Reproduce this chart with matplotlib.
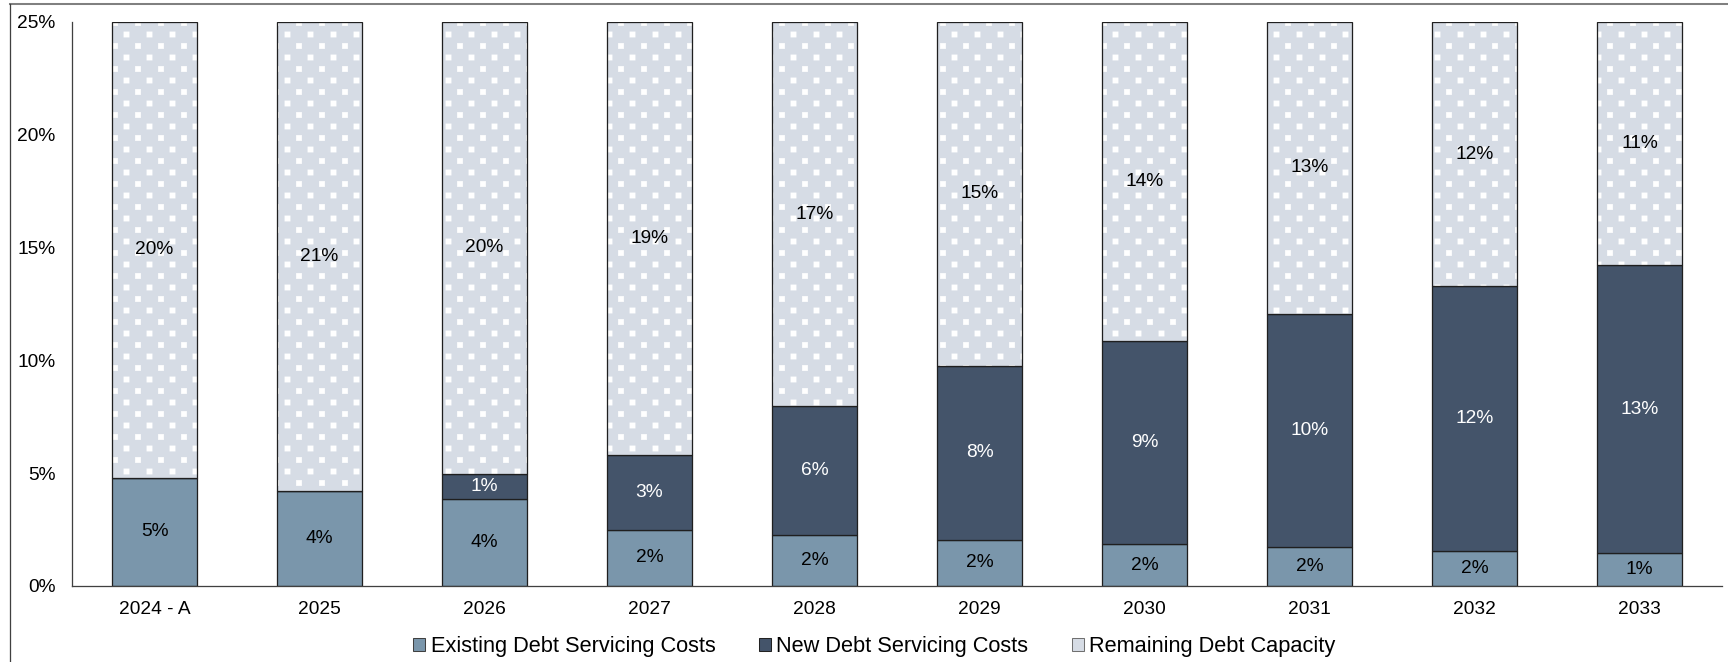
import numpy as np
import matplotlib
matplotlib.use("Agg")
import matplotlib.pyplot as plt
import matplotlib.hatch as mhatch
from matplotlib.path import Path
from matplotlib.patches import Patch
from matplotlib.lines import Line2D

categories = ["2024 - A", "2025", "2026", "2027", "2028", "2029", "2030", "2031", "2032", "2033"]
existing = [4.79, 4.20, 3.86, 2.49, 2.25, 2.05, 1.86, 1.71, 1.56, 1.46]
new_debt = [0.00, 0.00, 1.12, 3.32, 5.71, 7.72, 8.98, 10.35, 11.72, 12.75]
remaining = [20.21, 20.80, 20.02, 19.19, 17.04, 15.23, 14.16, 12.94, 11.72, 10.79]
series_names = ["Existing Debt Servicing Costs", "New Debt Servicing Costs", "Remaining Debt Capacity"]
yticks = [0, 5, 10, 15, 20, 25]


# ---- custom hatch: staggered small white squares ----
class SquareDots(mhatch.HatchPatternBase):
    ncols = 4
    size = 0.062

    def __init__(self, hatch, density):
        n = hatch.count('.')
        if n == 0:
            self.num_vertices = 0
            return
        nrows = 2 * self.ncols
        self.positions = []
        for r in range(nrows + 1):
            y = r / nrows
            if r % 2 == 0:
                xs = np.linspace(0, 1, self.ncols + 1)
            else:
                xs = np.linspace(0.5 / self.ncols, 1 - 0.5 / self.ncols, self.ncols)
            for xx in xs:
                self.positions.append((xx, y))
        self.num_vertices = len(self.positions) * 5

    def set_vertices_and_codes(self, vertices, codes):
        h = self.size / 2
        sq = np.array([[-h, -h], [h, -h], [h, h], [-h, h], [-h, -h]])
        sc = [Path.MOVETO, Path.LINETO, Path.LINETO, Path.LINETO, Path.CLOSEPOLY]
        vs, cs = [], []
        for (px, py) in self.positions:
            vs.append(sq + [px, py])
            cs.extend(sc)
        vertices[:] = np.concatenate(vs)
        codes[:] = cs


mhatch._hatch_types = [SquareDots]
plt.rcParams['hatch.linewidth'] = 0.1
plt.rcParams['font.family'] = ['Liberation Sans', 'DejaVu Sans']

DPI = 92
fig = plt.figure(figsize=(1728 / DPI, 662 / DPI), dpi=DPI)
ax = fig.add_axes([72 / 1728, 1 - 586 / 662, (1722 - 72) / 1728, (586 - 22) / 662])

c_exist = "#7A96AB"
c_new = "#44546A"
c_rem = "#D6DCE5"
edge = "#1f1f1f"

x = np.arange(len(categories))
w = 0.51
ex = np.array(existing)
nw = np.array(new_debt)
rm = np.array(remaining)

ax.bar(x, ex, w, color=c_exist, edgecolor=edge, linewidth=1.0, zorder=2)
ax.bar(x, nw, w, bottom=ex, color=c_new, edgecolor=edge, linewidth=1.0, zorder=2)
# remaining with white dots hatch, then outline
ax.bar(x, rm, w, bottom=ex + nw, color=c_rem, edgecolor="white", linewidth=0, hatch='.', zorder=2)
ax.bar(x, rm, w, bottom=ex + nw, fill=False, edgecolor=edge, linewidth=1.0, zorder=3)

fs_lab = 15
for i in range(len(categories)):
    ax.text(x[i], ex[i] / 2, f"{round(ex[i])}%", ha='center', va='center', fontsize=fs_lab, color='black', zorder=4)
    if nw[i] > 0:
        ax.text(x[i], ex[i] + nw[i] / 2, f"{round(nw[i])}%", ha='center', va='center', fontsize=fs_lab, color='white', zorder=4)
    ax.text(x[i], ex[i] + nw[i] + rm[i] / 2, f"{round(rm[i])}%", ha='center', va='center', fontsize=fs_lab, color='black', zorder=4)

ax.set_xlim(-0.5, len(categories) - 0.5)
ax.set_ylim(0, 25)
ax.set_yticks(yticks)
ax.set_yticklabels([f"{t}%" for t in yticks])
ax.set_xticks(x)
ax.set_xticklabels(categories)
ax.tick_params(axis='both', length=0, labelsize=15)
ax.tick_params(axis='y', pad=13)
ax.tick_params(axis='x', pad=12)
for s in ['top', 'right']:
    ax.spines[s].set_visible(False)
for s in ['left', 'bottom']:
    ax.spines[s].set_color('#404040')
    ax.spines[s].set_linewidth(1.0)

handles = [Patch(facecolor=c_exist, edgecolor='#404040', linewidth=0.8),
           Patch(facecolor=c_new, edgecolor='#222222', linewidth=0.8),
           Patch(facecolor=c_rem, edgecolor='#707070', linewidth=0.8)]
fig.legend(handles, series_names, loc='center', bbox_to_anchor=(0.506, 0.023), ncol=3,
           frameon=False, fontsize=17, handlelength=0.55, handleheight=0.55,
           handletextpad=0.25, columnspacing=2.0, borderaxespad=0)

# outer frame lines (top and left)
fig.add_artist(Line2D([10 / 1728, 1.0], [1 - 3.5 / 662, 1 - 3.5 / 662], transform=fig.transFigure,
                      color='#808080', linewidth=1.6))
fig.add_artist(Line2D([10 / 1728, 10 / 1728], [0, 1 - 3.5 / 662], transform=fig.transFigure,
                      color='#404040', linewidth=1.0))

fig.savefig("out.png", dpi=DPI)
